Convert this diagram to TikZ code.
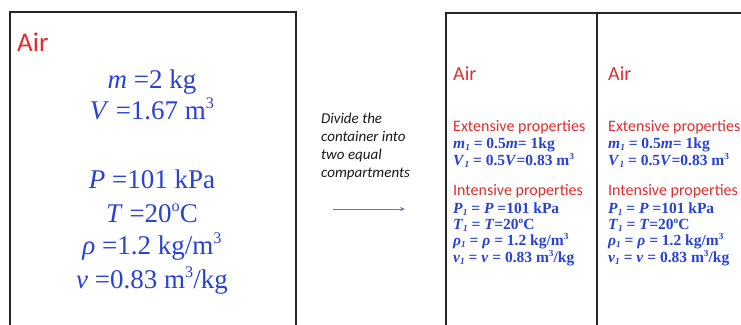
\documentclass[tikz,border=0pt]{standalone}
\usepackage{fontspec}
\setmainfont{Liberation Serif}
\newfontfamily\carlito{Carlito}
\usetikzlibrary{arrows.meta}
\definecolor{airred}{RGB}{225,45,45}
\definecolor{valblue}{RGB}{40,65,215}
\definecolor{arrowc}{RGB}{115,115,170}
\newcommand\upx[1]{\raisebox{0.38em}{\scalebox{0.6}{#1}}}
\newcommand\lowx[1]{\raisebox{-0.18em}{\scalebox{0.6}{#1}}}
\begin{document}
\begin{tikzpicture}[x=1pt,y=-1pt,
  wall/.style={line width=2.6pt, draw=black!85},
  bigval/.style={anchor=base, text=valblue, inner sep=0pt, font=\fontsize{27}{27}\selectfont},
  bigair/.style={anchor=base west, text=airred, inner sep=0pt, font=\carlito\fontsize{27}{27}\selectfont},
  smair/.style={anchor=base west, text=airred, inner sep=0pt, font=\carlito\fontsize{20}{20}\selectfont},
  prophead/.style={anchor=base west, text=airred, inner sep=0pt, font=\carlito\fontsize{16}{16}\selectfont},
  smval/.style={anchor=base west, text=valblue, inner sep=0pt, font=\bfseries\fontsize{15.5}{15.5}\selectfont},
  midtxt/.style={anchor=base west, inner sep=0pt, text=black!90, font=\carlito\itshape\fontsize{15}{15}\selectfont}
]
\useasboundingbox[fill=white] (0,0) rectangle (741,324);

% left container
\coordinate (lb1) at (10,330);
\coordinate (lb2) at (10,12);
\coordinate (lb3) at (296,12);
\coordinate (lb4) at (296,330);
\draw[wall] (lb1) -- (lb2) -- (lb3) -- (lb4);

% right container
\coordinate (rb1) at (446,330);
\coordinate (rb2) at (446,13);
\coordinate (rb3) at (750,13);
\coordinate (dv1) at (597,13);
\coordinate (dv2) at (597,330);
\draw[wall] (rb1) -- (rb2) -- (rb3);
\draw[wall] (dv1) -- (dv2);

% left texts
\node[bigair] (airL) at (17,51) {Air};
\node[bigval] (mL) at (152,88) {\textit{m} =2 kg};
\node[bigval] (VL) at (152,119) {\textit{V} =1.67 m\upx{3}};
\node[bigval] (PL) at (152,188) {\textit{P} =101 kPa};
\node[bigval] (TL) at (152,222) {\textit{T} =20\upx{o}C};
\node[bigval] (rL) at (152,254) {\textit{ρ} =1.2 kg/m\upx{3}};
\node[bigval] (vL) at (152,288) {\textit{v} =0.83 m\upx{3}/kg};

% middle
\node[midtxt] (d1) at (321,123) {Divide the};
\node[midtxt] (d2) at (321,141) {container into};
\node[midtxt] (d3) at (321,159) {two equal};
\node[midtxt] (d4) at (321,177) {compartments};
\coordinate (as) at (333,209);
\coordinate (ae) at (405,209);
\draw[arrowc, line width=0.9pt, -{Stealth[length=5pt,width=4pt]}] (as) -- (ae);

% compartments
\foreach \x/\n in {453/a, 608/b}{
  \node[smair] (air\n) at (\x,80) {Air};
  \node[prophead] (ext\n) at (\x,131) {Extensive properties};
  \node[smval] (m\n) at (\x,148) {\textit{m}\lowx{\textit{1}} = 0.5\textit{m}= 1kg};
  \node[smval] (V\n) at (\x,165) {\textit{V}\lowx{\textit{1}} = 0.5\textit{V}=0.83 m\upx{3}};
  \node[prophead] (int\n) at (\x,195) {Intensive properties};
  \node[smval] (P\n) at (\x,213) {\textit{P}\lowx{\textit{1}} = \textit{P} =101 kPa};
  \node[smval] (T\n) at (\x,229) {\textit{T}\lowx{\textit{1}} = \textit{T}=20\upx{o}C};
  \node[smval] (r\n) at (\x,245) {\textit{ρ}\lowx{\textit{1}} = \textit{ρ} = 1.2 kg/m\upx{3}};
  \node[smval] (v\n) at (\x,262) {\textit{v}\lowx{\textit{1}} = \textit{v} = 0.83 m\upx{3}/kg};
}
\end{tikzpicture}
\end{document}
